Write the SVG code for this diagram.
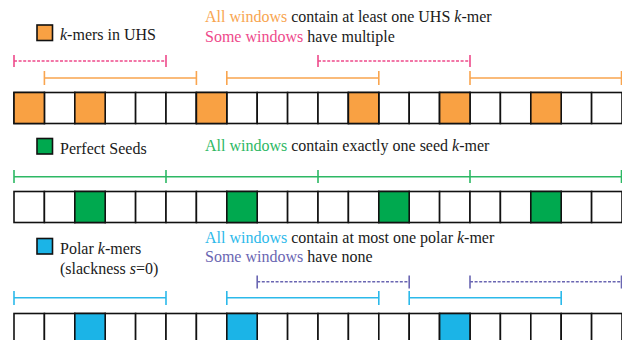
<svg xmlns="http://www.w3.org/2000/svg" width="622" height="340" viewBox="0 0 622 340">
<style>
text{font-family:'Liberation Serif','Times New Roman',Tinos,'DejaVu Serif',serif;font-size:16px;fill:#1a1a1a}
.c{fill:#fff;stroke:#111;stroke-width:1.6}
.o{fill:#F9A143}
.g{fill:#00A94F}
.b{fill:#1BB4E7}
.lo{stroke:#F9A54F;stroke-width:1.6;fill:none}
.lp{stroke:#EE4A8B;stroke-width:1.6;fill:none;stroke-dasharray:3 1.6}
.lg{stroke:#2DB864;stroke-width:1.6;fill:none}
.lc{stroke:#2CB9EA;stroke-width:1.6;fill:none}
.lv{stroke:#6A66B2;stroke-width:1.6;fill:none;stroke-dasharray:3 1.6}
.tick{stroke-dasharray:none}
.to{fill:#F8A550}.tp{fill:#EE4A8B}.tg{fill:#2DB864}.tc{fill:#2CB9EA}.tv{fill:#6A66B2}
</style>
<defs>
<g id="row">
<rect class="c" x="14" y="0" width="30.4" height="31"/><rect class="c" x="44.4" y="0" width="30.4" height="31"/><rect class="c" x="74.8" y="0" width="30.4" height="31"/><rect class="c" x="105.2" y="0" width="30.4" height="31"/><rect class="c" x="135.6" y="0" width="30.4" height="31"/><rect class="c" x="166" y="0" width="30.4" height="31"/><rect class="c" x="196.4" y="0" width="30.4" height="31"/><rect class="c" x="226.8" y="0" width="30.4" height="31"/><rect class="c" x="257.2" y="0" width="30.4" height="31"/><rect class="c" x="287.6" y="0" width="30.4" height="31"/><rect class="c" x="318" y="0" width="30.4" height="31"/><rect class="c" x="348.4" y="0" width="30.4" height="31"/><rect class="c" x="378.8" y="0" width="30.4" height="31"/><rect class="c" x="409.2" y="0" width="30.4" height="31"/><rect class="c" x="439.6" y="0" width="30.4" height="31"/><rect class="c" x="470" y="0" width="30.4" height="31"/><rect class="c" x="500.4" y="0" width="30.4" height="31"/><rect class="c" x="530.8" y="0" width="30.4" height="31"/><rect class="c" x="561.2" y="0" width="30.4" height="31"/><rect class="c" x="591.6" y="0" width="30.4" height="31"/>
</g>
</defs>

<g font-family="Liberation Serif, Times New Roman, serif">
<g id="legend-uhs">
<rect class="c o" x="37" y="25" width="15.5" height="15.5"/>
<text x="60" y="39.5" font-family="Liberation Serif, serif"><tspan font-style="italic">k</tspan>-mers in UHS</text>
</g>
<g id="caption-uhs">
<text x="205" y="21.5"><tspan class="to">All windows</tspan> contain at least one UHS <tspan font-style="italic">k</tspan>-mer</text>
<text x="205" y="41.5"><tspan class="tp">Some windows</tspan> have multiple</text>
</g>
<g id="row-uhs" transform="translate(0,92.5)">
<use href="#row"/>
<rect class="c o" x="14" y="0" width="30.4" height="31"/>
<rect class="c o" x="74.8" y="0" width="30.4" height="31"/>
<rect class="c o" x="196.4" y="0" width="30.4" height="31"/>
<rect class="c o" x="348.4" y="0" width="30.4" height="31"/>
<rect class="c o" x="439.6" y="0" width="30.4" height="31"/>
<rect class="c o" x="530.8" y="0" width="30.4" height="31"/>
</g>

<g id="legend-seeds">
<rect class="c g" x="37" y="138.5" width="15.5" height="15.5"/>
<text x="60" y="153.5">Perfect Seeds</text>
</g>
<g id="caption-seeds">
<text x="205" y="151"><tspan class="tg">All windows</tspan> contain exactly one seed <tspan font-style="italic">k</tspan>-mer</text>
</g>
<g id="row-seeds" transform="translate(0,191.5)">
<use href="#row"/>
<rect class="c g" x="74.8" y="0" width="30.4" height="31"/>
<rect class="c g" x="226.8" y="0" width="30.4" height="31"/>
<rect class="c g" x="378.8" y="0" width="30.4" height="31"/>
<rect class="c g" x="530.8" y="0" width="30.4" height="31"/>
</g>

<g id="legend-polar">
<rect class="c b" x="37" y="238.5" width="15.5" height="15.5"/>
<text x="60" y="253.5">Polar <tspan font-style="italic">k</tspan>-mers</text>
<text x="60" y="273.5">(slackness <tspan font-style="italic">s</tspan>=0)</text>
</g>
<g id="caption-polar">
<text x="205" y="242.5"><tspan class="tc">All windows</tspan> contain at most one polar <tspan font-style="italic">k</tspan>-mer</text>
<text x="205" y="262"><tspan class="tv">Some windows</tspan> have none</text>
</g>
<g id="row-polar" transform="translate(0,313.5)">
<use href="#row"/>
<rect class="c b" x="74.8" y="0" width="30.4" height="31"/>
<rect class="c b" x="226.8" y="0" width="30.4" height="31"/>
<rect class="c b" x="439.6" y="0" width="30.4" height="31"/>
</g>
</g>

<g id="connectors">
<path class="lp" d="M14 61H166M318 61H470"/>
<path class="lp tick" d="M14 55V67M166 55V67M318 55V67M470 55V67"/>
<path class="lo" d="M44.4 78H196.4M226.8 78H378.8M470 78H622"/>
<path class="lo" d="M44.4 71V85M196.4 71V85M226.8 71V85M378.8 71V85M470 71V85M621.5 71V85"/>
<path class="lg" d="M14 176.7H622"/>
<path class="lg" d="M14 170V183M166 170V183M318 170V183M470 170V183M621.5 170V183"/>
<path class="lv" d="M257.2 281.7H409.2M470 281.7H622"/>
<path class="lv tick" d="M257.2 275.5V288.5M409.2 275.5V288.5M470 275.5V288.5M621.5 275.5V288.5"/>
<path class="lc" d="M14 297.7H166M226.8 297.7H378.8M409.2 297.7H561.2"/>
<path class="lc" d="M14 291V305M166 291V305M226.8 291V305M378.8 291V305M409.2 291V305M561.2 291V305"/>
</g>
</svg>
